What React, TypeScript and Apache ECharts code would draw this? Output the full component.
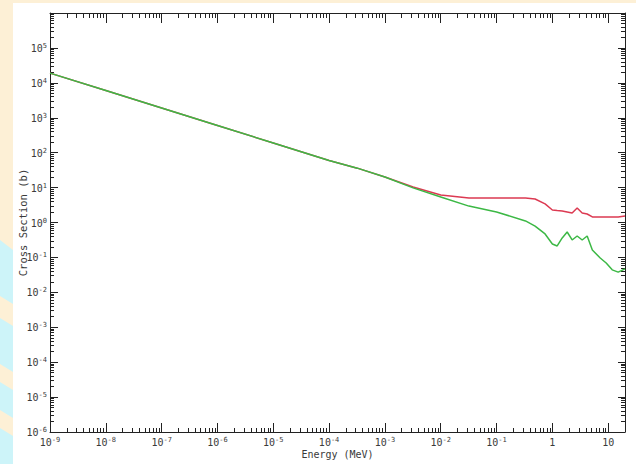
import React, { useEffect, useRef } from "react";
import * as echarts from "echarts";

// Energy grid (MeV) and cross sections (b)
const energyMeV = [1e-9, 1e-8, 1e-7, 1e-6, 1e-5, 1e-4, 3.2e-4, 1e-3, 3.2e-3, 0.01, 0.032, 0.1, 0.33, 0.49, 0.74, 1.0, 1.22, 1.5, 1.84, 2.26, 2.78, 3.42, 4.2, 5.2, 7.2, 9.2, 11.8, 15.1, 20];
const totalXS = [19000, 6000, 1900, 600, 190, 60, 36, 20, 10.4, 6.1, 5.0, 5.0, 5.0, 4.7, 3.4, 2.28, 2.2, 2.14, 2.0, 1.87, 2.6, 1.87, 1.75, 1.44, 1.44, 1.44, 1.44, 1.44, 1.54];
const reactionXS = [19000, 6000, 1900, 600, 190, 60, 36, 20, 9.8, 5.4, 2.95, 2.0, 1.11, 0.79, 0.47, 0.243, 0.213, 0.361, 0.535, 0.316, 0.411, 0.316, 0.411, 0.163, 0.096, 0.069, 0.044, 0.038, 0.047];

// Axis decades (exponents) for tick labels
const xLabelExps = [-9, -8, -7, -6, -5, -4, -3, -2, -1, 0, 1];
const yLabelExps = [-6, -5, -4, -3, -2, -1, 0, 1, 2, 3, 4, 5];
const yTickExps = [-6, -5, -4, -3, -2, -1, 0, 1, 2, 3, 4, 5, 6];
const minorMultipliers = [2, 3, 4, 5, 6, 7, 8, 9];

const X_MIN = 1e-9;
const X_MAX = 20;
const Y_MIN = 1e-6;
const Y_MAX = 1e6;

const FONT = "DejaVu Sans Mono";
const TXT = "#3a3a3a";

const pow10 = (e: number) => Number("1e" + e);
const majors = (exps: number[]) => exps.map(pow10);
const minors = (exps: number[], lo: number, hi: number) => {
  const out: number[] = [];
  exps.forEach((e) => minorMultipliers.forEach((m) => {
    const v = m * pow10(e);
    if (v > lo && v < hi) out.push(v);
  }));
  return out;
};

const rich = {
  b: { fontSize: 10, fontFamily: FONT, color: TXT, lineHeight: 11, verticalAlign: "bottom" },
  e: { fontSize: 7, fontFamily: FONT, color: TXT, lineHeight: 7, verticalAlign: "top" },
};

const xFmt = (v: number) => {
  const e = Math.round(Math.log10(v));
  if (e === 0) return "{b|1}";
  if (e === 1) return "{b|10}";
  return `{b|10}{e|${e}}`;
};
const yFmt = (v: number) => {
  const e = Math.round(Math.log10(v));
  return `{b|10}{e|${e}}`;
};

const lineCol = "#222";

export default function App() {
  const ref = useRef<HTMLDivElement>(null);
  useEffect(() => {
    const chart = echarts.init(ref.current!, null, { renderer: "svg" });
    const xDecs = [-9, -8, -7, -6, -5, -4, -3, -2, -1, 0, 1];
    const xMinor = minors(xDecs, X_MIN, X_MAX);
    const yMinor = minors(yTickExps, Y_MIN, Y_MAX);
    const xMajor = majors(xLabelExps);
    const yMajor = majors(yTickExps);

    const baseX = (pos: string, ticks: number[], len: number, showLine: boolean, showLabel: boolean) => ({
      type: "log",
      logBase: 10,
      min: X_MIN,
      max: X_MAX,
      position: pos,
      gridIndex: 0,
      axisLine: { show: showLine, lineStyle: { color: lineCol, width: 1 } },
      axisTick: { show: true, inside: true, length: len, customValues: ticks, lineStyle: { color: lineCol, width: 1 } },
      axisLabel: showLabel
        ? { show: true, customValues: xMajor, formatter: xFmt, rich, margin: 4 }
        : { show: false },
      splitLine: { show: false },
      minorTick: { show: false },
    });
    const baseY = (pos: string, ticks: number[], len: number, showLine: boolean, showLabel: boolean) => ({
      type: "log",
      logBase: 10,
      min: Y_MIN,
      max: Y_MAX,
      position: pos,
      gridIndex: 0,
      axisLine: { show: showLine, lineStyle: { color: lineCol, width: 1 } },
      axisTick: { show: true, inside: true, length: len, customValues: ticks, lineStyle: { color: lineCol, width: 1 } },
      axisLabel: showLabel
        ? { show: true, customValues: majors(yLabelExps), formatter: yFmt, rich, margin: 3 }
        : { show: false },
      splitLine: { show: false },
      minorTick: { show: false },
    });

    const xMain: any = baseX("bottom", xMajor, 9, true, true);
    xMain.name = "Energy (MeV)";
    xMain.nameLocation = "middle";
    xMain.nameGap = 17;
    xMain.nameMoveOverlap = false;
    xMain.nameTextStyle = { fontFamily: FONT, fontSize: 10, color: TXT };
    const yMain: any = baseY("left", yMajor, 8, true, true);
    yMain.name = "Cross Section (b)";
    yMain.nameLocation = "middle";
    yMain.nameGap = 22;
    yMain.nameMoveOverlap = false;
    yMain.nameTextStyle = { fontFamily: FONT, fontSize: 10.5, color: TXT };

    const stripes = [
      [[0, 240], [13, 250], [13, 304], [0, 296]],
      [[0, 318], [13, 326], [13, 372], [0, 364]],
      [[0, 382], [13, 390], [13, 418], [0, 410]],
      [[0, 428], [13, 436], [13, 464], [0, 464]],
    ];

    chart.setOption({
      animation: false,
      backgroundColor: "#fdf0d6",
      graphic: [
        ...stripes.map((pts) => ({
          type: "polygon",
          z: -20,
          silent: true,
          shape: { points: pts },
          style: { fill: "#cdf4f9" },
        })),
        {
          type: "rect",
          z: -10,
          silent: true,
          shape: { x: 13, y: 3, width: 623, height: 461 },
          style: { fill: "#ffffff" },
        },
      ],
      grid: { left: 50, right: 11, top: 13, bottom: 32, containLabel: false },
      xAxis: [
        xMain,
        baseX("bottom", xMinor, 4, false, false),
        baseX("top", xMajor, 10, true, false),
        baseX("top", xMinor, 5, false, false),
      ],
      yAxis: [
        yMain,
        baseY("left", yMinor, 4, false, false),
        baseY("right", yMajor, 7, true, false),
        baseY("right", yMinor, 4, false, false),
      ],
      series: [
        {
          name: "Total",
          type: "line",
          xAxisIndex: 0,
          yAxisIndex: 0,
          showSymbol: false,
          symbol: "none",
          lineStyle: { color: "#dc3a52", width: 1.5 },
          data: energyMeV.map((e, i) => [e, totalXS[i]]),
        },
        {
          name: "Reaction",
          type: "line",
          xAxisIndex: 0,
          yAxisIndex: 0,
          showSymbol: false,
          symbol: "none",
          lineStyle: { color: "#3cb845", width: 1.5 },
          data: energyMeV.map((e, i) => [e, reactionXS[i]]),
        },
      ],
    });
    return () => chart.dispose();
  }, []);
  return (
    <div
      ref={ref}
      style={{ position: "fixed", left: 0, top: 0, width: 636, height: 464 }}
    />
  );
}
